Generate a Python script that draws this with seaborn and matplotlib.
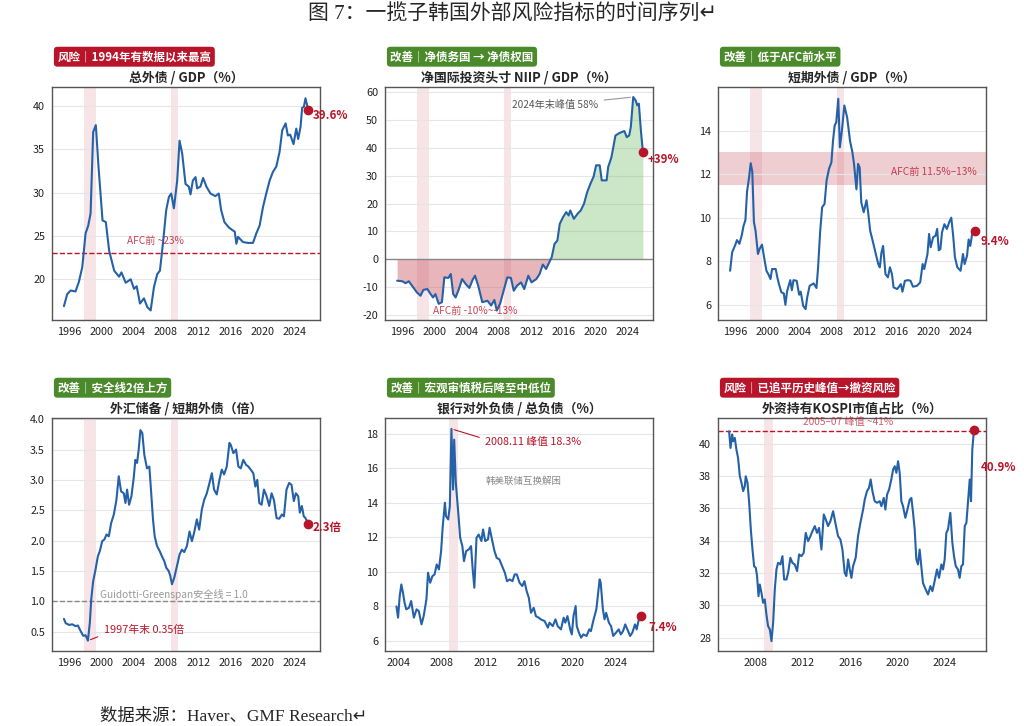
import numpy as np
import pandas as pd
import seaborn as sns
import matplotlib.pyplot as plt

# ---------------- data ----------------
# 1) 总外债 / GDP
p1_year = [1995.38, 1995.79, 1996.21, 1996.82, 1997.23, 1997.65, 1998.06, 1998.39, 1998.68,
           1999.0, 1999.33, 1999.66, 2000.16, 2000.57, 2000.98, 2001.6, 2002.21, 2002.5,
           2003.03, 2003.65, 2004.06, 2004.39, 2004.8, 2005.29, 2005.7, 2006.12, 2006.53,
           2006.94, 2007.27, 2007.64, 2008.05, 2008.38, 2008.67, 2009.0, 2009.41, 2009.7,
           2010.03, 2010.44, 2010.85, 2011.06, 2011.35, 2011.68, 2011.88, 2012.29, 2012.62,
           2013.03, 2013.53, 2014.14, 2014.56, 2014.85, 2015.26, 2015.79, 2016.21, 2016.54,
           2016.74, 2016.95, 2017.56, 2018.18, 2018.8, 2019.21, 2019.62, 2020.03, 2020.44,
           2020.86, 2021.27, 2021.68, 2022.09, 2022.42, 2022.84, 2023.12, 2023.41, 2023.82,
           2024.16, 2024.4, 2024.69, 2024.89, 2025.1, 2025.3, 2025.63]
p1_val = [16.9, 18.3, 18.7, 18.6, 19.7, 21.4, 25.3, 26.2, 27.6, 37.0, 37.8, 33.0, 26.8, 26.6,
          23.3, 21.0, 20.3, 20.8, 19.6, 20.0, 18.9, 19.2, 17.2, 17.8, 16.8, 16.4, 19.1, 20.6,
          21.0, 24.1, 28.0, 29.5, 29.9, 28.2, 31.4, 36.0, 34.5, 31.0, 30.7, 29.8, 31.4, 31.8,
          30.5, 30.7, 31.7, 30.7, 29.9, 29.6, 29.9, 28.0, 26.6, 26.0, 25.7, 25.5, 24.1, 24.9,
          24.3, 24.2, 24.2, 25.3, 26.2, 28.3, 29.9, 31.4, 32.4, 33.0, 34.7, 37.2, 38.0, 36.6,
          36.7, 35.6, 37.4, 36.2, 37.6, 39.8, 39.9, 40.9, 39.6]

# 2) 净国际投资头寸 NIIP / GDP
p2_year = [1995.4, 1996.05, 1996.45, 1996.85, 1997.25, 1997.85, 1998.3, 1998.65, 1999.15,
           1999.55, 1999.85, 2000.15, 2000.55, 2000.95, 2001.25, 2001.75, 2002.05, 2002.35,
           2002.65, 2003.05, 2003.45, 2003.9, 2004.35, 2004.75, 2005.05, 2005.45, 2005.95,
           2006.6, 2007.05, 2007.45, 2007.75, 2008.15, 2008.65, 2009.05, 2009.5, 2009.85,
           2010.25, 2010.75, 2011.15, 2011.65, 2012.05, 2012.65, 2013.05, 2013.45, 2013.85,
           2014.25, 2014.55, 2014.9, 2015.25, 2015.55, 2015.95, 2016.35, 2016.65, 2016.85,
           2017.3, 2017.75, 2018.15, 2018.55, 2018.95, 2019.35, 2019.75, 2020.05, 2020.5,
           2020.75, 2021.35, 2021.55, 2021.95, 2022.45, 2022.95, 2023.55, 2023.85, 2024.15,
           2024.35, 2024.65, 2024.95, 2025.15, 2025.35, 2025.6, 2025.85]
p2_val = [-7.7, -7.9, -8.6, -7.9, -9.5, -11.9, -13.1, -11.0, -10.7, -12.5, -13.7, -12.5, -16.0,
          -15.4, -6.5, -6.7, -5.3, -12.5, -13.7, -10.7, -7.1, -8.9, -10.3, -7.4, -5.9, -9.5,
          -15.4, -14.9, -16.6, -14.6, -18.4, -16.0, -10.7, -6.5, -6.7, -11.3, -9.5, -8.3,
          -10.7, -5.9, -8.3, -7.1, -5.3, -1.9, -3.5, -1.1, 0.7, 5.5, 6.7, 12.7, 15.1, 16.9,
          15.7, 17.5, 14.5, 16.3, 17.5, 19.9, 24.1, 27.1, 29.7, 33.7, 33.7, 28.3, 28.3, 33.1,
          36.6, 44.4, 45.3, 46.0, 43.8, 44.4, 47.4, 58.2, 57.0, 55.2, 55.8, 46.2, 38.4]

# 3) 短期外债 / GDP
p3_year = [1995.4, 1995.65, 1996.05, 1996.25, 1996.55, 1996.85, 1997.05, 1997.3, 1997.5,
           1997.75, 1997.95, 1998.15, 1998.35, 1998.55, 1998.85, 1999.05, 1999.35, 1999.6,
           1999.9, 2000.15, 2000.4, 2000.6, 2001.05, 2001.25, 2001.45, 2001.75, 2002.05,
           2002.25, 2002.45, 2002.85, 2003.05, 2003.25, 2003.65, 2003.95, 2004.15, 2004.45,
           2004.75, 2004.95, 2005.25, 2005.75, 2006.1, 2006.3, 2006.55, 2006.8, 2007.1, 2007.35,
           2007.65, 2007.95, 2008.15, 2008.35, 2008.55, 2008.8, 2009.0, 2009.25, 2009.55,
           2009.9, 2010.25, 2010.55, 2010.75, 2011.05, 2011.25, 2011.45, 2011.65, 2011.95,
           2012.3, 2012.5, 2012.75, 2013.15, 2013.45, 2013.75, 2013.95, 2014.15, 2014.35,
           2014.65, 2014.95, 2015.2, 2015.45, 2015.65, 2016.1, 2016.55, 2016.75, 2017.05,
           2017.45, 2017.75, 2018.05, 2018.55, 2018.95, 2019.25, 2019.45, 2019.85, 2020.05,
           2020.25, 2020.55, 2020.85, 2021.05, 2021.25, 2021.45, 2021.65, 2021.95, 2022.25,
           2022.55, 2022.8, 2023.05, 2023.25, 2023.55, 2023.95, 2024.25, 2024.45, 2024.75,
           2024.95, 2025.15, 2025.45, 2025.75]
p3_val = [7.56, 8.4, 8.76, 8.97, 8.8, 9.2, 9.6, 9.9, 11.2, 11.85, 12.5, 12.1, 9.8, 9.4, 8.33,
          8.56, 8.76, 8.2, 7.56, 7.4, 7.18, 7.64, 7.64, 7.26, 6.95, 6.57, 6.52, 6.0, 6.6, 7.13,
          6.67, 7.13, 7.1, 6.46, 6.6, 5.95, 5.8, 6.34, 6.87, 6.98, 6.77, 7.72, 9.33, 10.48,
          10.63, 11.7, 12.24, 12.54, 13.54, 14.23, 14.38, 15.46, 13.23, 14.0, 15.15, 14.6,
          13.54, 13.0, 12.47, 11.3, 12.47, 12.3, 10.7, 10.25, 10.8, 10.25, 9.4, 8.8, 8.33,
          7.87, 7.72, 8.4, 8.7, 7.4, 7.26, 7.72, 7.4, 6.8, 6.72, 6.95, 6.6, 7.1, 7.13, 7.1,
          6.83, 6.87, 7.03, 7.87, 7.64, 8.33, 9.25, 8.64, 9.1, 9.17, 9.48, 8.5, 8.56, 9.33,
          9.7, 9.48, 9.8, 10.0, 9.1, 8.18, 7.72, 7.56, 8.33, 7.87, 8.25, 9.0, 8.7, 9.4, 9.37]

# 4) 外汇储备 / 短期外债
p4_year = [1995.38, 1995.59, 1996.0, 1996.41, 1996.82, 1997.11, 1997.44, 1997.77, 1998.06,
           1998.35, 1998.59, 1998.76, 1999.0, 1999.29, 1999.58, 1999.83, 2000.12, 2000.4,
           2000.65, 2000.94, 2001.23, 2001.56, 2001.88, 2002.17, 2002.46, 2002.79, 2003.0,
           2003.2, 2003.45, 2003.74, 2004.02, 2004.23, 2004.44, 2004.64, 2004.85, 2005.09,
           2005.34, 2005.67, 2005.96, 2006.16, 2006.41, 2006.62, 2006.91, 2007.23, 2007.52,
           2007.81, 2008.06, 2008.35, 2008.55, 2008.76, 2009.05, 2009.38, 2009.7, 2009.99,
           2010.28, 2010.61, 2010.94, 2011.23, 2011.51, 2011.84, 2012.13, 2012.46, 2012.75,
           2013.08, 2013.41, 2013.7, 2013.98, 2014.31, 2014.64, 2014.93, 2015.22, 2015.55,
           2015.88, 2016.04, 2016.37, 2016.7, 2016.99, 2017.28, 2017.6, 2017.93, 2018.22,
           2018.51, 2018.84, 2019.09, 2019.33, 2019.58, 2019.86, 2020.16, 2020.49, 2020.81,
           2021.1, 2021.39, 2021.72, 2022.05, 2022.38, 2022.63, 2022.95, 2023.28, 2023.57,
           2023.86, 2024.11, 2024.4, 2024.6, 2024.85, 2025.09, 2025.3, 2025.63]
p4_val = [0.71, 0.64, 0.61, 0.62, 0.59, 0.6, 0.51, 0.43, 0.44, 0.35, 0.65, 1.03, 1.33, 1.52,
          1.74, 1.83, 1.99, 2.02, 2.1, 2.07, 2.29, 2.43, 2.67, 3.06, 2.81, 2.78, 2.62, 2.84,
          2.59, 2.73, 3.03, 3.33, 3.28, 3.5, 3.82, 3.77, 3.41, 3.19, 3.22, 2.84, 2.35, 2.07,
          1.91, 1.83, 1.74, 1.66, 1.55, 1.5, 1.42, 1.28, 1.39, 1.58, 1.77, 1.85, 1.81, 1.91,
          2.15, 1.99, 2.13, 2.35, 2.18, 2.51, 2.67, 2.78, 2.95, 3.11, 2.84, 2.76, 3.0, 3.17,
          3.09, 3.22, 3.61, 3.58, 3.44, 3.5, 3.22, 3.19, 3.33, 3.25, 3.22, 3.17, 3.11, 2.89,
          3.0, 2.62, 2.59, 2.84, 2.73, 2.57, 2.78, 2.67, 2.37, 2.36, 2.43, 2.4, 2.84, 2.95,
          2.92, 2.65, 2.78, 2.73, 2.46, 2.57, 2.4, 2.37, 2.28]

# 5) 银行对外负债 / 总负债
p5_year = [2003.85, 2004.0, 2004.15, 2004.3, 2004.45, 2004.6, 2004.75, 2005.0, 2005.2,
           2005.45, 2005.7, 2005.9, 2006.15, 2006.35, 2006.6, 2006.75, 2006.95, 2007.15,
           2007.35, 2007.55, 2007.75, 2007.95, 2008.1, 2008.3, 2008.4, 2008.6, 2008.75, 2008.9,
           2009.05, 2009.15, 2009.3, 2009.4, 2009.55, 2009.7, 2009.9, 2010.05, 2010.25, 2010.5,
           2010.7, 2010.85, 2011.0, 2011.2, 2011.4, 2011.65, 2011.8, 2012.0, 2012.25, 2012.4,
           2012.65, 2012.85, 2013.05, 2013.3, 2013.55, 2013.8, 2014.0, 2014.25, 2014.5, 2014.7,
           2014.9, 2015.15, 2015.4, 2015.6, 2015.8, 2016.0, 2016.2, 2016.45, 2016.65, 2016.9,
           2017.1, 2017.45, 2017.75, 2017.9, 2018.2, 2018.45, 2018.65, 2018.95, 2019.2, 2019.35,
           2019.55, 2019.8, 2019.95, 2020.1, 2020.3, 2020.4, 2020.6, 2020.8, 2021.0, 2021.3,
           2021.55, 2021.7, 2021.95, 2022.2, 2022.3, 2022.5, 2022.6, 2022.8, 2022.95, 2023.1,
           2023.35, 2023.55, 2023.75, 2024.0, 2024.25, 2024.45, 2024.65, 2024.85, 2025.05,
           2025.3, 2025.5, 2025.75, 2025.9, 2026.1, 2026.3]
p5_val = [8.0, 7.35, 8.6, 9.27, 8.79, 8.2, 7.83, 7.92, 8.31, 7.35, 7.83, 7.73, 6.96, 7.44, 8.4,
          9.95, 9.37, 9.75, 9.85, 10.43, 10.14, 11.2, 12.64, 14.0, 13.22, 13.03, 13.8, 18.27,
          14.76, 17.65, 15.15, 14.38, 13.22, 11.97, 11.49, 10.62, 11.2, 11.3, 11.49, 10.14,
          9.08, 11.97, 12.16, 11.78, 12.45, 11.78, 11.87, 12.55, 11.78, 11.2, 10.81, 10.72,
          10.33, 9.95, 9.46, 9.56, 9.46, 9.85, 9.85, 9.37, 9.18, 9.46, 8.89, 8.5, 7.63, 7.92,
          7.44, 7.35, 7.25, 7.15, 6.77, 7.06, 6.86, 7.25, 6.86, 6.67, 7.35, 7.06, 7.44, 6.67,
          6.38, 7.44, 8.02, 6.86, 6.48, 6.19, 6.38, 6.29, 6.67, 6.57, 7.25, 7.83, 8.4, 9.56,
          9.37, 7.83, 7.25, 7.63, 7.06, 6.86, 6.29, 6.48, 6.67, 6.38, 6.57, 6.96, 6.67, 6.29,
          6.48, 6.96, 6.67, 7.25, 7.44]

# 6) 外资持有KOSPI市值占比
p6_year = [2005.74, 2005.86, 2006.0, 2006.08, 2006.22, 2006.36, 2006.5, 2006.65, 2006.79,
           2006.93, 2007.07, 2007.15, 2007.3, 2007.44, 2007.58, 2007.72, 2007.86, 2008.0,
           2008.11, 2008.23, 2008.34, 2008.48, 2008.62, 2008.76, 2008.9, 2009.04, 2009.19,
           2009.33, 2009.47, 2009.61, 2009.75, 2009.89, 2010.09, 2010.26, 2010.4, 2010.6,
           2010.74, 2010.93, 2011.1, 2011.3, 2011.5, 2011.67, 2011.87, 2012.06, 2012.23,
           2012.43, 2012.63, 2012.8, 2013.0, 2013.19, 2013.36, 2013.56, 2013.76, 2013.93,
           2014.12, 2014.32, 2014.55, 2014.74, 2014.97, 2015.17, 2015.34, 2015.53, 2015.67,
           2015.82, 2015.96, 2016.1, 2016.24, 2016.46, 2016.66, 2016.86, 2017.09, 2017.23,
           2017.42, 2017.59, 2017.73, 2017.88, 2018.07, 2018.27, 2018.5, 2018.64, 2018.84,
           2018.98, 2019.12, 2019.29, 2019.48, 2019.63, 2019.77, 2019.91, 2020.05, 2020.19,
           2020.33, 2020.47, 2020.67, 2020.81, 2021.04, 2021.18, 2021.32, 2021.46, 2021.6,
           2021.74, 2021.88, 2022.02, 2022.16, 2022.39, 2022.59, 2022.79, 2022.96, 2023.15,
           2023.35, 2023.52, 2023.72, 2023.86, 2024.0, 2024.14, 2024.28, 2024.48, 2024.65,
           2024.79, 2024.94, 2025.13, 2025.27, 2025.41, 2025.55, 2025.7, 2025.84, 2025.97,
           2026.12, 2026.23, 2026.34, 2026.48]
p6_val = [40.76, 39.73, 40.56, 40.14, 40.35, 39.63, 39.11, 37.98, 37.57, 37.06, 37.37, 37.98,
          37.57, 36.34, 34.69, 33.45, 32.42, 32.32, 31.81, 30.57, 31.29, 30.78, 30.16, 30.37,
          29.44, 28.72, 28.51, 27.79, 28.93, 30.98, 32.22, 32.63, 32.53, 33.04, 31.6, 31.6,
          32.01, 32.94, 32.63, 32.53, 32.12, 33.15, 33.04, 33.25, 34.48, 33.97, 34.28, 34.59,
          34.9, 34.48, 34.79, 33.45, 35.62, 35.31, 34.9, 35.2, 35.82, 35.1, 34.28, 34.07,
          33.45, 32.01, 31.81, 32.84, 32.22, 31.7, 32.42, 32.94, 34.28, 35.1, 35.92, 36.54,
          37.06, 37.26, 37.78, 37.06, 36.44, 36.34, 36.44, 36.13, 36.64, 35.92, 36.85, 37.16,
          37.78, 38.39, 38.6, 38.19, 38.91, 38.19, 36.44, 36.13, 35.41, 35.82, 36.54, 36.64,
          35.72, 34.69, 32.84, 32.53, 33.45, 32.42, 31.39, 30.98, 30.67, 31.19, 30.88, 31.5,
          32.22, 31.7, 32.53, 32.22, 32.84, 34.48, 34.69, 35.72, 33.87, 33.04, 32.42, 32.22,
          31.7, 32.42, 32.53, 34.9, 35.1, 36.34, 37.78, 36.44, 39.63, 40.86]

titles = ['总外债 / GDP（%）', '净国际投资头寸 NIIP / GDP（%）', '短期外债 / GDP（%）',
          '外汇储备 / 短期外债（倍）', '银行对外负债 / 总负债（%）', '外资持有KOSPI市值占比（%）']
badges = ['风险｜1994年有数据以来最高', '改善｜净债务国 → 净债权国', '改善｜低于AFC前水平',
          '改善｜安全线2倍上方', '改善｜宏观审慎税后降至中低位', '风险｜已追平历史峰值→撤资风险']
badge_kind = ['risk', 'good', 'good', 'good', 'good', 'risk']
end_labels = ['39.6%', '+39%', '9.4%', '2.3倍', '7.4%', '40.9%']
afc_span = (1997.85, 1999.3)
gfc_span = (2008.7, 2009.5)

# ---------------- style ----------------
sns.set_style('white')
plt.rcParams['font.family'] = ['Noto Sans CJK SC', 'DejaVu Sans']
plt.rcParams['axes.unicode_minus'] = False

BLUE = '#2561a8'
RED = '#b8152a'
GREEN = '#4a8a2a'
SHADE = '#e8b4bd'

fig = plt.figure(figsize=(10.24, 7.26), dpi=100)
W, H = 1024, 726
boxes = [(52, 87), (385, 87), (718, 87), (52, 418), (385, 418), (718, 418)]
axes = []
for (x0, y0) in boxes:
    ax = fig.add_axes([x0 / W, 1 - (y0 + 233) / H, 268 / W, 233 / H])
    axes.append(ax)

series = [(p1_year, p1_val), (p2_year, p2_val), (p3_year, p3_val),
          (p4_year, p4_val), (p5_year, p5_val), (p6_year, p6_val)]
xlims = [(1993.9, 2027.1), (1993.9, 2027.1), (1993.9, 2027.1),
         (1993.9, 2027.1), (2002.8, 2027.4), (2004.8, 2027.5)]
ylims = [(15.3, 42.2), (-21.8, 61.8), (5.3, 16.0), (0.18, 4.02), (5.42, 18.9), (27.18, 41.58)]
xticks = [np.arange(1996, 2025, 4)] * 4 + [np.arange(2004, 2025, 4), np.arange(2008, 2025, 4)]
yticks = [[20, 25, 30, 35, 40], np.arange(-20, 61, 10), [6, 8, 10, 12, 14],
          np.arange(0.5, 4.01, 0.5), np.arange(6, 19, 2), np.arange(28, 41, 2)]
label_off = [(3, -4), (3, -5), (4, -7), (3, -2.5), (5, -8), (5, -27)]

for i, ax in enumerate(axes):
    yr, val = series[i]
    df = pd.DataFrame({'year': yr, 'value': val})

    # crisis shading
    if i < 4:
        ax.axvspan(*afc_span, color=SHADE, alpha=0.35, lw=0, zorder=0)
    ax.axvspan(*gfc_span, color=SHADE, alpha=0.35, lw=0, zorder=0)

    if i == 1:
        ax.fill_between(df['year'], df['value'], 0, where=df['value'] >= 0,
                        interpolate=True, color='#6dbb5f', alpha=0.35, lw=0)
        ax.fill_between(df['year'], df['value'], 0, where=df['value'] < 0,
                        interpolate=True, color='#c9505f', alpha=0.42, lw=0)
        ax.axhline(0, color='#888888', lw=1.0, zorder=1)

    sns.lineplot(data=df, x='year', y='value', ax=ax, color=BLUE, lw=1.5, zorder=3)
    ax.plot(yr[-1], val[-1], 'o', color=RED, ms=6, zorder=4)
    ax.annotate(end_labels[i], (yr[-1], val[-1]), xytext=label_off[i],
                textcoords='offset points', ha='left', va='center',
                color=RED, fontsize=8.3, fontweight='bold')

    ax.set_xlim(*xlims[i])
    ax.set_ylim(*ylims[i])
    ax.set_xticks(xticks[i])
    ax.set_yticks(yticks[i])
    if i == 3:
        ax.set_yticklabels([f'{v:.1f}' for v in yticks[i]])
    ax.set_xlabel('')
    ax.set_ylabel('')
    ax.tick_params(axis='both', labelsize=7.8, length=3, width=0.8,
                   color='#555555', labelcolor='#222222', pad=2)
    ax.yaxis.grid(True, color='#e6e6e6', lw=0.8)
    ax.set_axisbelow(True)
    for sp in ax.spines.values():
        sp.set_color('#555555')
        sp.set_linewidth(1.0)

    ax.set_title(titles[i], fontsize=9.3, fontweight='bold', pad=4)
    ax.text(0.02, 1.13, badges[i], transform=ax.transAxes, ha='left', va='center',
            color='white', fontsize=8.3, fontweight='bold',
            bbox=dict(boxstyle='round,pad=0.3,rounding_size=0.3',
                      fc=RED if badge_kind[i] == 'risk' else GREEN, ec='none'))

# per-panel reference lines and notes
ax = axes[0]
ax.axhline(23, color=RED, ls='--', lw=1.0, zorder=2)
ax.text(2006.7, 24.4, 'AFC前 ~23%', color=RED, alpha=0.8, fontsize=7.3, ha='center', va='center')

ax = axes[1]
ax.annotate('2024年末峰值 58%', (2024.65, 58.2), xytext=(2020.3, 55.3),
            ha='right', va='center', color='#555555', fontsize=7.3,
            arrowprops=dict(arrowstyle='-', color='#999999', lw=0.8))
ax.text(2005.05, -18.4, 'AFC前 -10%~-13%', color=RED, alpha=0.8, fontsize=7.3,
        ha='center', va='center')

ax = axes[2]
ax.axhspan(11.5, 13.0, color='#c9505f', alpha=0.28, lw=0, zorder=0)
ax.text(2025.95, 12.1, 'AFC前 11.5%–13%', color=RED, alpha=0.8, fontsize=7.3,
        ha='right', va='center')

ax = axes[3]
ax.axhline(1.0, color='#888888', ls='--', lw=1.0, zorder=2)
ax.text(1999.83, 1.11, 'Guidotti-Greenspan安全线 = 1.0', color='#999999', fontsize=7.3,
        ha='left', va='center')
ax.annotate('1997年末 0.35倍', (1998.35, 0.35), xytext=(2000.3, 0.52),
            ha='left', va='center', color=RED, fontsize=7.8,
            arrowprops=dict(arrowstyle='-', color=RED, lw=0.8, relpos=(0, 0.1)))

ax = axes[4]
ax.annotate('2008.11 峰值 18.3%', (2008.9, 18.27), xytext=(2012.0, 17.5),
            ha='left', va='center', color=RED, fontsize=7.8,
            arrowprops=dict(arrowstyle='-', color=RED, lw=0.8, relpos=(0, 0.8)))
ax.text(2012.0, 15.25, '韩美联储互换解困', color='#888888', fontsize=6.8,
        ha='left', va='center')

ax = axes[5]
ax.axhline(40.75, color=RED, ls='--', lw=1.0, zorder=2)
ax.text(2015.8, 41.35, '2005–07 峰值 ~41%', color=RED, alpha=0.7, fontsize=7.3,
        ha='center', va='center')

fig.text(0.5, 1 - 15 / H, '图 7：一揽子韩国外部风险指标的时间序列↵',
         ha='center', va='center', fontsize=15,
         family=['Liberation Serif', 'Noto Sans CJK SC', 'DejaVu Sans'])
fig.text(100 / W, 1 - 717 / H, '数据来源：Haver、GMF Research↵',
         ha='left', va='center', fontsize=12.5,
         family=['Liberation Serif', 'Noto Sans CJK SC', 'DejaVu Sans'])

fig.savefig('out.png', dpi=100)
